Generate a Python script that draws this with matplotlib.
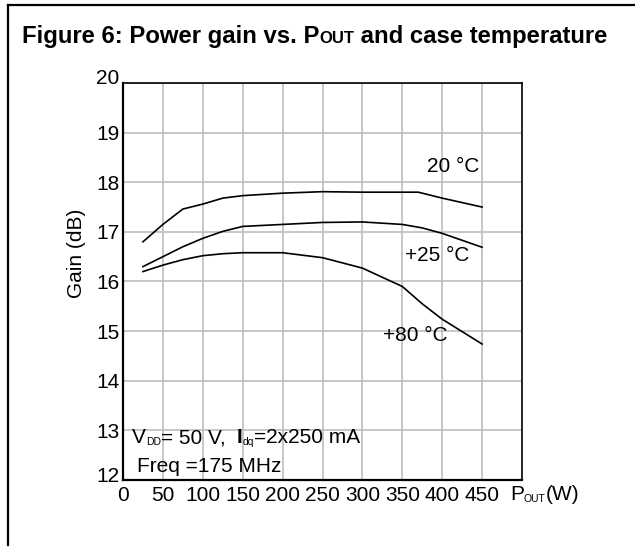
import matplotlib
matplotlib.use("Agg")
import matplotlib.pyplot as plt
from matplotlib.lines import Line2D
from matplotlib.transforms import ScaledTranslation

plt.rcParams['font.family'] = ['Liberation Sans', 'DejaVu Sans']

# ---- data ----
x_20 = [25, 50, 75, 100, 125, 150, 200, 250, 300, 350, 370, 400, 450]
g_20 = [16.80, 17.15, 17.46, 17.56, 17.68, 17.73, 17.78, 17.81, 17.80, 17.80, 17.80, 17.68, 17.50]
x_25 = [25, 50, 75, 100, 125, 150, 200, 250, 300, 350, 375, 400, 450]
g_25 = [16.30, 16.50, 16.70, 16.87, 17.01, 17.11, 17.15, 17.19, 17.20, 17.15, 17.08, 16.97, 16.69]
x_80 = [25, 50, 75, 100, 125, 150, 200, 250, 300, 350, 375, 400, 450]
g_80 = [16.20, 16.33, 16.44, 16.52, 16.56, 16.58, 16.58, 16.48, 16.27, 15.90, 15.55, 15.24, 14.74]
x_ticks = [0, 50, 100, 150, 200, 250, 300, 350, 400, 450]
y_ticks = [12, 13, 14, 15, 16, 17, 18, 19, 20]

W, H = 635, 547
FS = 15
fig = plt.figure(figsize=(W / 100, H / 100), dpi=100)
ax = fig.add_axes([123 / W, 1 - 480 / H, (522 - 123) / W, (480 - 83) / H])

for xs, ys in [(x_20, g_20), (x_25, g_25), (x_80, g_80)]:
    ax.plot(xs, ys, color='black', lw=1.2, zorder=3)

ax.set_xlim(0, 500)
ax.set_ylim(12, 20)
ax.set_xticks(x_ticks)
ax.set_yticks(y_ticks)
ax.grid(True, color='#bdbdbd', lw=1.2, zorder=0)
ax.tick_params(length=0, labelsize=FS)
ax.tick_params(axis='y', pad=2.5)
ax.tick_params(axis='x', pad=4.5)
for s in ['left', 'bottom']:
    ax.spines[s].set_linewidth(1.6)
for s in ['top', 'right']:
    ax.spines[s].set_linewidth(1.2)
ax.set_axisbelow(True)

fig.canvas.draw()
# nudge the end labels (12 and 20) upward like the reference
ylabels = ax.get_yticklabels()
shift = ScaledTranslation(0, 6 / 100, fig.dpi_scale_trans)
for lab in (ylabels[0], ylabels[-1]):
    lab.set_transform(lab.get_transform() + shift)

renderer = fig.canvas.get_renderer()


def rich(x_px, base_px, pieces):
    """pieces: list of (text, size, weight, dy_px)"""
    x = x_px
    for txt, size, weight, dy in pieces:
        t = fig.text(x / W, 1 - (base_px - dy) / H, txt, fontsize=size,
                     fontweight=weight, ha='left', va='baseline')
        bb = t.get_window_extent(renderer=renderer)
        x = bb.x1


# title
rich(22, 43, [("Figure 6: Power gain vs. P", 17.2, 'bold', 0),
              ("OUT", 12, 'bold', 0),
              (" and case temperature", 17.2, 'bold', 0)])

# conditions
rich(132, 443, [("V", FS, 'normal', 0), ("DD", 7.5, 'normal', -2),
                ("= 50 V,  ", FS, 'normal', 0), ("I", FS, 'bold', 0),
                ("dq", 7.5, 'normal', -2), ("=2x250 mA", FS, 'normal', 0)])
rich(137, 472, [("Freq =175 MHz", FS, 'normal', 0)])

# curve labels
rich(427, 172, [("20 °C", FS, 'normal', 0)])
rich(405, 261, [("+25 °C", FS, 'normal', 0)])
rich(383, 341, [("+80 °C", FS, 'normal', 0)])

# x axis label
rich(510, 500, [("P", FS, 'normal', 0), ("OUT", 7.5, 'normal', -2),
                ("(W)", FS, 'normal', 0)])

# y axis label
fig.text(77 / W, 1 - 253 / H, "Gain (dB)", rotation=90, fontsize=FS,
         ha='center', va='center')

# frame lines
fig.add_artist(Line2D([8 / W, 1.0], [1 - 5 / H, 1 - 5 / H], color='black', lw=1.6,
                      transform=fig.transFigure))
fig.add_artist(Line2D([8 / W, 8 / W], [1 - 5 / H, 1 - 545 / H], color='black', lw=1.6,
                      transform=fig.transFigure))

fig.savefig("out.png", dpi=100)
